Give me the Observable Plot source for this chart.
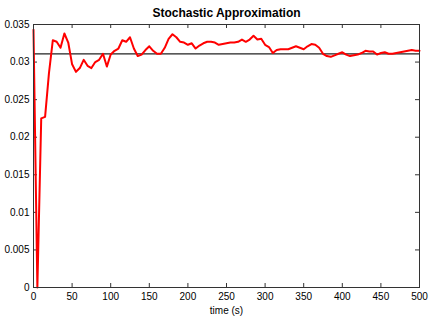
<!DOCTYPE html>
<html>
<head>
<meta charset="utf-8">
<script src="https://cdn.jsdelivr.net/npm/d3@7"></script>
<script src="https://cdn.jsdelivr.net/npm/@observablehq/plot@0.6"></script>
<style>
  html, body { margin: 0; padding: 0; background: #fff; }
  svg { font-family: "Liberation Sans", Arial, Helvetica, sans-serif; }
</style>
</head>
<body>
<div id="chart"></div>
<script>
const title = "Stochastic Approximation";
const xLabel = "time (s)";
const times = [0,5,10,15,20,25,30,35,40,45,50,55,60,65,70,75,80,85,90,95,100,105,110,115,120,125,130,135,140,145,150,155,160,165,170,175,180,185,190,195,200,205,210,215,220,225,230,235,240,245,250,255,260,265,270,275,280,285,290,295,300,305,310,315,320,325,330,335,340,345,350,355,360,365,370,375,380,385,390,395,400,405,410,415,420,425,430,435,440,445,450,455,460,465,470,475,480,485,490,495,500];
const estimate = [0.0343,0,0.0225,0.0227,0.0285,0.0329,0.0327,0.0319,0.0338,0.0326,0.0297,0.0287,0.0292,0.0303,0.0295,0.0292,0.0300,0.0303,0.0311,0.0294,0.0310,0.0315,0.0318,0.0329,0.0327,0.0333,0.0318,0.0308,0.0310,0.0316,0.0321,0.0315,0.0311,0.0311,0.0319,0.0331,0.0337,0.0333,0.0327,0.0326,0.0323,0.0325,0.0318,0.0322,0.0325,0.0327,0.0327,0.0326,0.0323,0.0324,0.0325,0.0326,0.0326,0.0327,0.0330,0.0327,0.0330,0.0335,0.0330,0.0331,0.0323,0.0320,0.0312,0.0316,0.0317,0.0317,0.0317,0.0319,0.0321,0.0319,0.0317,0.0321,0.0324,0.0323,0.0319,0.0311,0.0308,0.0307,0.0309,0.0311,0.0313,0.0310,0.0308,0.0309,0.0310,0.0312,0.0315,0.0314,0.0314,0.0310,0.0312,0.0313,0.0311,0.0311,0.0312,0.0313,0.0314,0.0315,0.0316,0.0315,0.0315];
const reference = [0.0311];
const xTicks = [0,50,100,150,200,250,300,350,400,450,500];
const yTicks = [0,0.005,0.01,0.015,0.02,0.025,0.03,0.035];

const data = times.map((t, i) => ({t, v: estimate[i]}));

const W = 436, H = 324;
const mL = 33, mR = 17, mT = 24, mB = 37;
const pw = W - mL - mR, ph = H - mT - mB;
const tk = 4;

const chart = Plot.plot({
  width: W, height: H,
  marginLeft: mL, marginRight: mR, marginTop: mT, marginBottom: mB,
  style: {fontFamily: "Liberation Sans, Arial, sans-serif", fontSize: "10px", color: "#000", background: "#fff"},
  x: {domain: [0, 500], ticks: xTicks},
  y: {domain: [0, 0.035], ticks: yTicks},
  marks: [
    Plot.axisX(xTicks, {tickSize: 0, tickPadding: 5, label: null, fontSize: 10}),
    Plot.axisY(yTicks, {tickSize: 0, tickPadding: 4, label: null, fontSize: 10, tickFormat: d => String(+d.toFixed(3))}),
    Plot.tickX(xTicks, {x: d => d, insetTop: ph - tk, stroke: "#333"}),
    Plot.tickX(xTicks, {x: d => d, insetBottom: ph - tk, stroke: "#333"}),
    Plot.tickY(yTicks, {y: d => d, insetRight: pw - tk, stroke: "#333"}),
    Plot.tickY(yTicks, {y: d => d, insetLeft: pw - tk, stroke: "#333"}),
    Plot.ruleY(reference, {stroke: "#222", strokeWidth: 1.3}),
    Plot.line(data, {x: "t", y: "v", stroke: "#ff0000", strokeWidth: 2}),
    Plot.frame({stroke: "#333", strokeWidth: 1}),
    Plot.text([title], {frameAnchor: "top", dy: -8, lineAnchor: "bottom", fontWeight: "bold", fontSize: 12, fill: "#000"}),
    Plot.text([xLabel], {frameAnchor: "bottom", dy: 26, lineAnchor: "bottom", fontSize: 10, fill: "#000"})
  ]
});
document.getElementById("chart").appendChild(chart);
</script>
</body>
</html>
